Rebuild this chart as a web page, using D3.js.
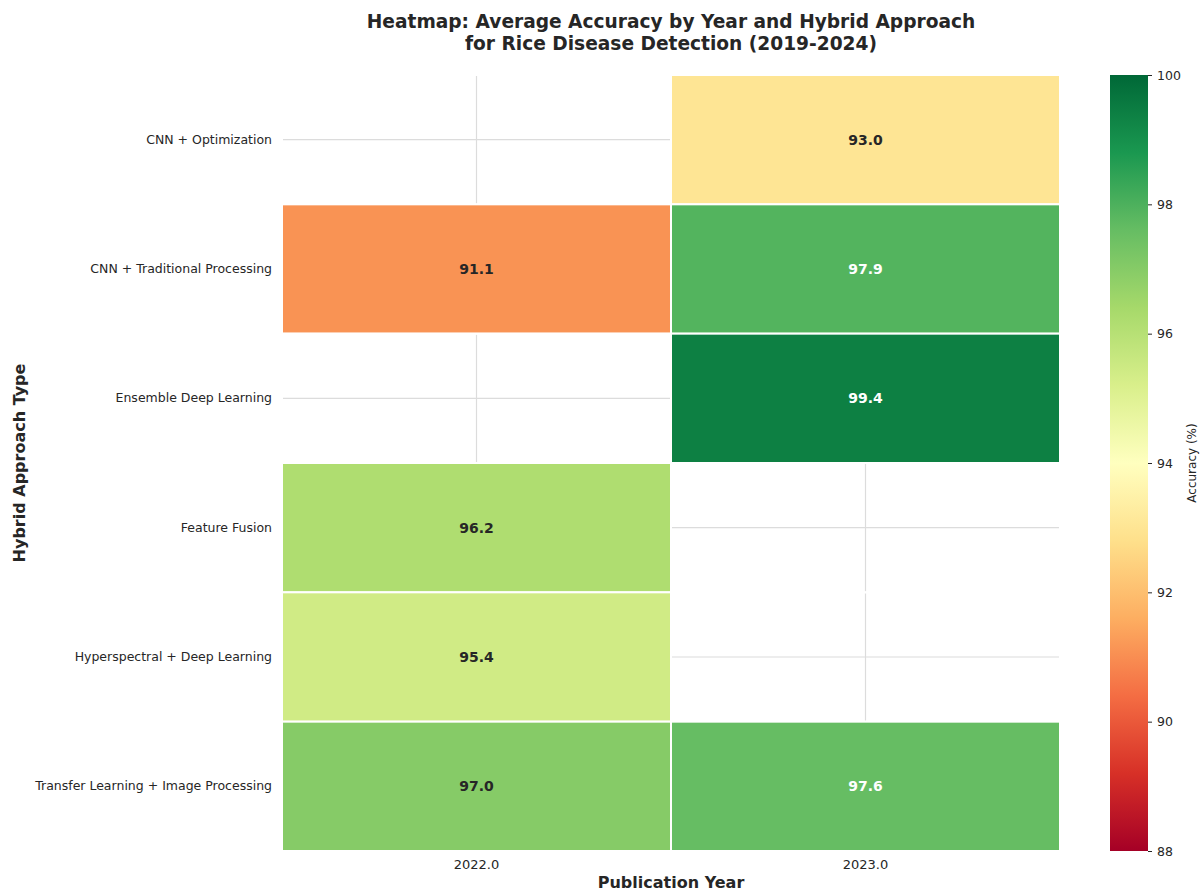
<!DOCTYPE html>
<html>
<head>
<meta charset="utf-8">
<script src="https://cdn.jsdelivr.net/npm/d3@7"></script>
<style>
  html, body { margin: 0; padding: 0; background: #fff; }
  svg { display: block; font-family: "DejaVu Sans", sans-serif; }
</style>
</head>
<body>
<svg id="chart" width="1203" height="895"></svg>
<script>
// Publication years (columns) and hybrid approaches (rows)
const years = ["2022.0", "2023.0"];
const approaches = [
  "CNN + Optimization",
  "CNN + Traditional Processing",
  "Ensemble Deep Learning",
  "Feature Fusion",
  "Hyperspectral + Deep Learning",
  "Transfer Learning + Image Processing"
];
// Average accuracy (%) per approach, one entry per year; null = no studies
const acc2022 = [null, 91.1, null, 96.2, 95.4, 97.0];
const acc2023 = [93.0, 97.9, 99.4, null, null, 97.6];
const colorTicks = [88, 90, 92, 94, 96, 98, 100];

const cells = [];
approaches.forEach((a, i) => {
  cells.push({ approach: a, year: years[0], value: acc2022[i] });
  cells.push({ approach: a, year: years[1], value: acc2023[i] });
});

const svg = d3.select("#chart");
const plot = { left: 282, top: 75, right: 1060, bottom: 851 };

const x = d3.scaleBand().domain(years).range([plot.left, plot.right]);
const y = d3.scaleBand().domain(approaches).range([plot.top, plot.bottom]);

// RdYlGn, linear through the 11 ColorBrewer anchors, over 88–100
const rdylgn = ["#a50026","#d73027","#f46d43","#fdae61","#fee08b","#ffffbf",
                "#d9ef8b","#a6d96a","#66bd63","#1a9850","#006837"];
const vmin = 88, vmax = 100;
const color = d3.scaleLinear()
  .domain(rdylgn.map((_, i) => vmin + (vmax - vmin) * i / (rdylgn.length - 1)))
  .range(rdylgn)
  .interpolate(d3.interpolateRgb)
  .clamp(true);

function luminance(c) {
  const rgb = d3.rgb(c);
  const f = v => { v /= 255; return v <= 0.03928 ? v / 12.92 : Math.pow((v + 0.055) / 1.055, 2.4); };
  return 0.2126 * f(rgb.r) + 0.7152 * f(rgb.g) + 0.0722 * f(rgb.b);
}

// Grid lines through cell centres (drawn beneath the cells)
const grid = svg.append("g");
grid.selectAll("line.vg").data(years).join("line")
  .attr("x1", d => x(d) + x.bandwidth() / 2).attr("x2", d => x(d) + x.bandwidth() / 2)
  .attr("y1", plot.top).attr("y2", plot.bottom)
  .attr("stroke", "#dcdcdc").attr("stroke-width", 1.2);
grid.selectAll("line.hg").data(approaches).join("line")
  .attr("y1", d => y(d) + y.bandwidth() / 2).attr("y2", d => y(d) + y.bandwidth() / 2)
  .attr("x1", plot.left).attr("x2", plot.right)
  .attr("stroke", "#dcdcdc").attr("stroke-width", 1.2);

// Cells
svg.append("g").selectAll("rect").data(cells).join("rect")
  .attr("x", d => x(d.year)).attr("y", d => y(d.approach))
  .attr("width", x.bandwidth()).attr("height", y.bandwidth())
  .attr("fill", d => d.value == null ? "none" : color(d.value))
  .attr("stroke", "#fff").attr("stroke-width", 2);

// Value annotations
svg.append("g").selectAll("text").data(cells.filter(d => d.value != null)).join("text")
  .attr("x", d => x(d.year) + x.bandwidth() / 2)
  .attr("y", d => y(d.approach) + y.bandwidth() / 2)
  .attr("text-anchor", "middle").attr("dominant-baseline", "central")
  .attr("font-size", 14).attr("font-weight", "bold")
  .attr("fill", d => luminance(color(d.value)) > 0.408 ? "#262626" : "#ffffff")
  .text(d => d.value.toFixed(1));

// Axes
const yAxis = svg.append("g").attr("transform", `translate(${plot.left},0)`)
  .call(d3.axisLeft(y).tickSize(0).tickPadding(10));
yAxis.select(".domain").remove();
yAxis.selectAll("text").attr("font-size", 12.5).attr("fill", "#262626")
  .attr("font-family", "DejaVu Sans, sans-serif");

const xAxis = svg.append("g").attr("transform", `translate(0,${plot.bottom})`)
  .call(d3.axisBottom(x).tickSize(0).tickPadding(9));
xAxis.select(".domain").remove();
xAxis.selectAll("text").attr("font-size", 13).attr("fill", "#262626")
  .attr("font-family", "DejaVu Sans, sans-serif");

// Axis titles
svg.append("text").attr("x", (plot.left + plot.right) / 2).attr("y", 888)
  .attr("text-anchor", "middle").attr("font-size", 16).attr("font-weight", "bold")
  .attr("fill", "#262626").text("Publication Year");
svg.append("text")
  .attr("transform", `translate(25,${(plot.top + plot.bottom) / 2}) rotate(-90)`)
  .attr("text-anchor", "middle").attr("font-size", 16).attr("font-weight", "bold")
  .attr("fill", "#262626").text("Hybrid Approach Type");

// Title
const title = svg.append("text").attr("text-anchor", "middle")
  .attr("font-size", 18.6).attr("font-weight", "bold").attr("fill", "#262626");
title.append("tspan").attr("x", (plot.left + plot.right) / 2).attr("y", 28)
  .text("Heatmap: Average Accuracy by Year and Hybrid Approach");
title.append("tspan").attr("x", (plot.left + plot.right) / 2).attr("y", 50)
  .text("for Rice Disease Detection (2019-2024)");

// Colour bar
const cb = { x: 1110, w: 38, top: plot.top, bottom: plot.bottom };
const cbScale = d3.scaleLinear().domain([vmin, vmax]).range([cb.bottom, cb.top]);
const defs = svg.append("defs");
const grad = defs.append("linearGradient").attr("id", "cbgrad")
  .attr("x1", 0).attr("y1", 1).attr("x2", 0).attr("y2", 0);
rdylgn.forEach((c, i) => {
  grad.append("stop").attr("offset", i / (rdylgn.length - 1)).attr("stop-color", c);
});
svg.append("rect").attr("x", cb.x).attr("y", cb.top)
  .attr("width", cb.w).attr("height", cb.bottom - cb.top)
  .attr("fill", "url(#cbgrad)");
const cbAxis = svg.append("g").attr("transform", `translate(${cb.x + cb.w},0)`)
  .call(d3.axisRight(cbScale).tickValues(colorTicks).tickSize(4).tickPadding(5));
cbAxis.select(".domain").remove();
cbAxis.selectAll("line").attr("stroke", "#262626").attr("stroke-width", 1);
cbAxis.selectAll("text").attr("font-size", 12.5).attr("fill", "#262626")
  .attr("font-family", "DejaVu Sans, sans-serif");
svg.append("text")
  .attr("transform", `translate(1196,${(cb.top + cb.bottom) / 2}) rotate(-90)`)
  .attr("text-anchor", "middle").attr("font-size", 12).attr("fill", "#262626")
  .text("Accuracy (%)");
</script>
</body>
</html>
